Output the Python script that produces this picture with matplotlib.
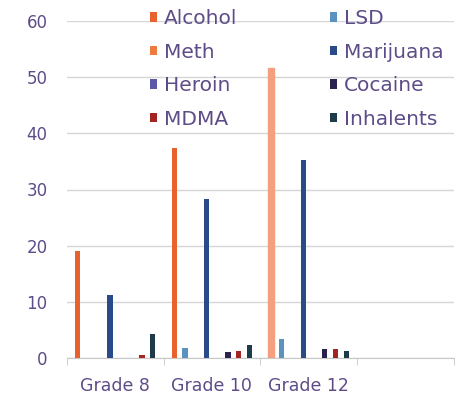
import matplotlib
matplotlib.use("Agg")
import matplotlib.pyplot as plt
import numpy as np

grades = ["Grade 8", "Grade 10", "Grade 12", ""]
series = ["Alcohol", "LSD", "Meth", "Marijuana", "Heroin", "Cocaine", "MDMA", "Inhalents"]
alcohol = [19.0, 37.3, 51.7, 0]
lsd = [0, 1.8, 3.3, 0]
meth = [0, 0, 0, 0]
marijuana = [11.2, 28.3, 35.3, 0]
heroin = [0, 0, 0, 0]
cocaine = [0, 1.0, 1.6, 0]
mdma = [0.5, 1.2, 1.6, 0]
inhalents = [4.3, 2.4, 1.3, 0]

colors = ["#E8622E", "#5C93BE", "#F07A3E", "#2A4A8A",
          "#5A5AA8", "#2B2150", "#A42424", "#1F3A48"]
values = [alcohol, lsd, meth, marijuana, heroin, cocaine, mdma, inhalents]

TXT = "#5E4C88"
fig = plt.figure(figsize=(4.55, 4.0), dpi=100)
ax = fig.add_axes([0.147, 0.105, 0.85, 0.8425])

x = np.arange(len(grades))
slot = 0.111
handles = {}
for i, (name, vals, c) in enumerate(zip(series, values, colors)):
    bars = ax.bar(x + (i - 3.5) * slot, vals, width=0.055, color=c, label=name, zorder=3)
    handles[name] = bars
    if name == "Alcohol":
        bars[2].set_color("#F4A080")  # grade 12 bar drawn lighter in the source

ax.set_ylim(0, 60)
ax.set_xlim(-0.5, 3.5)
ax.set_yticks(range(0, 61, 10))
ax.yaxis.grid(True, color="#D6D6D6", linewidth=1.0, zorder=0)
ax.set_axisbelow(True)
for s in ("left", "right", "top"):
    ax.spines[s].set_visible(False)
ax.spines["bottom"].set_color("#C8C8C8")

ax.set_xticks(x)
ax.set_xticklabels(grades)
ax.set_xticks(np.arange(-0.5, 3.6, 1.0), minor=True)
ax.tick_params(axis="x", which="major", length=0, pad=14, labelsize=12.5, labelcolor=TXT)
ax.tick_params(axis="x", which="minor", length=5, color="#C8C8C8")
ax.tick_params(axis="y", length=0, pad=14, labelsize=12, labelcolor=TXT)

# legend fills column-wise: first column Alcohol..MDMA, second LSD..Inhalents
order = ["Alcohol", "Meth", "Heroin", "MDMA", "LSD", "Marijuana", "Cocaine", "Inhalents"]
leg = ax.legend([handles[n] for n in order], order, ncol=2, loc="upper left",
                bbox_to_anchor=(0.215, 1.035), frameon=False, borderaxespad=0, borderpad=0,
                fontsize=14.5, handlelength=0.35, handleheight=0.35, handletextpad=0.35,
                columnspacing=4.6, labelspacing=0.72)
for t in leg.get_texts():
    t.set_color(TXT)

fig.savefig("out.png", dpi=100)
